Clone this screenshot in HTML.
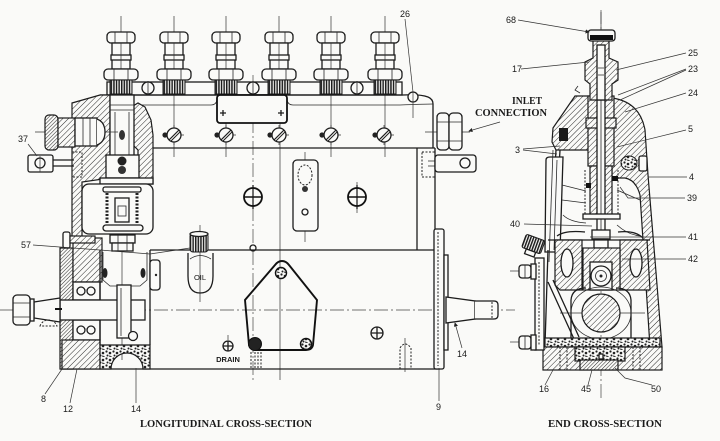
<!DOCTYPE html>
<html><head><meta charset="utf-8">
<style>
html,body{margin:0;padding:0;background:#fafaf8;}
svg{display:block;}
.l{fill:none;stroke:#1c1c1c;stroke-width:1.3;}
.t{fill:none;stroke:#333;stroke-width:0.7;}
.k{fill:none;stroke:#2a2a2a;stroke-width:0.8;}
.w{fill:#fafaf8;stroke:#1c1c1c;stroke-width:1.3;}
.h{fill:url(#hatch);stroke:#1c1c1c;stroke-width:1.2;}
.x{fill:url(#xh);stroke:#1c1c1c;stroke-width:1.2;}
.st{fill:url(#stip);stroke:#1c1c1c;stroke-width:1.2;}
.cl{fill:none;stroke:#444;stroke-width:0.7;stroke-dasharray:14 3 2 3;}
.dl{fill:none;stroke:#222;stroke-width:1;stroke-dasharray:2 1.5;}
.n{font-family:"Liberation Sans",sans-serif;font-size:9px;fill:#1a1a1a;}
.s{font-family:"Liberation Serif",serif;font-weight:bold;font-size:10px;fill:#1a1a1a;}
</style></head><body>
<svg width="720" height="441" viewBox="0 0 720 441" xmlns="http://www.w3.org/2000/svg">
<defs>
<pattern id="hatch" width="4" height="4" patternUnits="userSpaceOnUse" patternTransform="rotate(45)">
<rect width="4" height="4" fill="#fafaf8"/><line x1="0" y1="0" x2="0" y2="4" stroke="#2a2a2a" stroke-width="1"/>
</pattern>
<pattern id="xh" width="2.6" height="2.6" patternUnits="userSpaceOnUse" patternTransform="rotate(45)">
<rect width="2.6" height="2.6" fill="#fafaf8"/><line x1="0" y1="0" x2="0" y2="2.6" stroke="#222" stroke-width="1"/>
</pattern>
<pattern id="knurl" width="2.6" height="10" patternUnits="userSpaceOnUse">
<rect width="2.6" height="10" fill="#fafaf8"/><rect width="1.5" height="10" fill="#1e1e1e"/>
</pattern>
<pattern id="stip" width="7" height="7" patternUnits="userSpaceOnUse">
<rect width="7" height="7" fill="#fafaf8"/><circle cx="1.5" cy="1.5" r="1.1" fill="#222"/><circle cx="5" cy="3" r="1.3" fill="#222"/><circle cx="2.5" cy="5.5" r="1" fill="#222"/><path d="M4,6 l2.5,0.6" stroke="#222"/>
</pattern>
<g id="fit">
<line x1="0" y1="16" x2="0" y2="32" class="t"/>
<rect x="-14" y="32" width="28" height="11" rx="4" class="w"/>
<line x1="-6" y1="32" x2="-6" y2="43" class="k"/><line x1="6" y1="32" x2="6" y2="43" class="k"/>
<rect x="-9" y="43" width="18" height="26" class="w"/>
<rect x="-10" y="55" width="20" height="5" class="w"/>
<line x1="0" y1="43" x2="0" y2="69" class="t"/>
<rect x="-17" y="69" width="34" height="11" rx="4" class="w"/>
<line x1="-7" y1="69" x2="-7" y2="80" class="k"/><line x1="7" y1="69" x2="7" y2="80" class="k"/>
<rect x="-11" y="80" width="22" height="14" fill="url(#knurl)" stroke="#1c1c1c" stroke-width="1"/>
</g>
<g id="scr">
<line x1="-10" y1="0" x2="10" y2="0" class="t"/><line x1="0" y1="-10" x2="0" y2="10" class="t"/>
<circle cx="0" cy="0" r="7" class="w"/>
<line x1="-5" y1="5" x2="5" y2="-5" stroke="#1c1c1c" stroke-width="1.2"/>
<line x1="-3" y1="6" x2="6" y2="-3" stroke="#1c1c1c" stroke-width="1"/>
<circle cx="-9" cy="0" r="2.6" fill="#222"/>
</g>
<g id="bolt">
<circle cx="0" cy="0" r="9" fill="#fafaf8" stroke="#111" stroke-width="1.8"/>
<line x1="-9" y1="0" x2="9" y2="0" stroke="#111" stroke-width="1.4"/>
<line x1="0" y1="-12" x2="0" y2="12" stroke="#111" stroke-width="1.2"/>
</g>
<marker id="ar" markerWidth="6" markerHeight="6" refX="5" refY="3" orient="auto"><path d="M0,0 L6,3 L0,6 Z" fill="#222"/></marker>
</defs>
<rect width="720" height="441" fill="#fafaf8"/>

<!-- ================= LONGITUDINAL ================= -->
<line x1="0" y1="310" x2="515" y2="310" class="cl"/>
<line x1="253" y1="75" x2="253" y2="380" class="cl"/>
<line x1="280" y1="95" x2="280" y2="380" class="t"/>
<line x1="174" y1="95" x2="174" y2="157" class="t"/>
<line x1="226" y1="95" x2="226" y2="157" class="t"/>
<line x1="331" y1="95" x2="331" y2="157" class="t"/>
<line x1="385" y1="95" x2="385" y2="157" class="t"/>
<line x1="357" y1="182" x2="357" y2="213" class="t"/>
<line x1="305" y1="152" x2="305" y2="242" class="t"/>
<line x1="200" y1="225" x2="200" y2="302" class="t"/>
<line x1="122" y1="95" x2="122" y2="360" class="t"/>

<!-- rail and top -->
<rect x="107" y="82" width="295" height="13" class="w"/>
<path d="M100,95 H403 Q420,94 428,97 Q433,99 433,104 V148" class="l"/>
<path d="M133,105 H211 Q216,105 217,100 M287,100 Q288,105 293,105 H400 Q425,104 433,104" class="k"/>
<line x1="150" y1="148" x2="435" y2="148" class="l"/>
<line x1="435" y1="148" x2="435" y2="250" class="l"/>
<line x1="417" y1="148" x2="417" y2="250" class="l"/>
<circle cx="148" cy="88" r="6" class="w"/><line x1="148" y1="81" x2="148" y2="95" class="k"/>
<circle cx="253" cy="88" r="6" class="w"/><line x1="253" y1="81" x2="253" y2="95" class="k"/>
<circle cx="357" cy="88" r="6" class="w"/><line x1="357" y1="81" x2="357" y2="95" class="k"/>
<use href="#fit" x="121"/><use href="#fit" x="174"/><use href="#fit" x="226"/>
<use href="#fit" x="279"/><use href="#fit" x="331"/><use href="#fit" x="385"/>
<rect x="217" y="95" width="70" height="28" rx="3" fill="#fafaf8" stroke="#111" stroke-width="1.8"/>
<path d="M220,113 h6 M223,110 v6 M278,113 h6 M281,110 v6" class="l"/>
<circle cx="413" cy="97" r="5" class="w"/><line x1="413" y1="92" x2="413" y2="118" class="t"/>

<use href="#scr" x="174" y="135"/><use href="#scr" x="226" y="135"/><use href="#scr" x="279" y="135"/>
<use href="#scr" x="331" y="135"/><use href="#scr" x="384" y="135"/>

<!-- inlet nuts -->
<line x1="425" y1="132" x2="470" y2="132" class="t"/>
<rect x="437" y="113" width="12" height="37" rx="4" class="w"/>
<rect x="449" y="113" width="13" height="37" rx="4" class="w"/>
<path d="M437,122 H462 M437,141 H462" class="k"/>
<!-- right bracket -->
<rect x="422" y="152" width="13" height="25" class="dl"/>
<path d="M428,161 H452 M428,166 H452" class="k"/>
<rect x="435" y="155" width="41" height="17" rx="3" class="w"/>
<circle cx="465" cy="163" r="5" class="w"/>

<!-- middle block -->
<use href="#bolt" x="253" y="197"/><use href="#bolt" x="357" y="197"/>
<rect x="293" y="160" width="25" height="71" rx="4" class="w"/>
<ellipse cx="305" cy="175" rx="7" ry="10" class="dl"/>
<circle cx="305" cy="189" r="3" fill="#333"/>
<circle cx="305" cy="212" r="3" class="w"/>
<circle cx="253" cy="248" r="3" class="w"/>

<!-- lower body -->
<line x1="150" y1="250" x2="434" y2="250" class="l"/>
<line x1="60" y1="369" x2="440" y2="369" class="l" stroke-width="1.6"/>
<!-- oil plug -->
<path d="M188,253 V276 Q188,293 200,293 Q213,293 213,276 V253" class="l"/>
<path d="M190,259 Q200,252 211,259" class="k"/>
<rect x="190" y="233" width="18" height="19" rx="3" fill="url(#knurl)" stroke="#1c1c1c"/>
<ellipse cx="199" cy="234" rx="9" ry="2.5" class="w"/>
<text x="200" y="280" class="n" style="font-size:7.5px" text-anchor="middle">OIL</text>
<!-- pentagon cover -->
<path d="M282,261 Q286,261 289,265 L317,300 L313,345 Q312,350 306,350 L256,350 Q250,350 249,345 L245,300 L275,265 Q278,261 282,261 Z" fill="none" stroke="#111" stroke-width="1.9"/>
<circle cx="281" cy="273" r="5.5" fill="url(#stip)" stroke="#111" stroke-width="1.4"/>
<circle cx="255" cy="344" r="6.5" fill="#222" stroke="#111"/>
<circle cx="306" cy="344" r="5.5" fill="url(#stip)" stroke="#111" stroke-width="1.4"/>
<path d="M251,352 V369 M255,352 V369 M258,352 V369 M261,352 V369" class="dl"/>
<path d="M400,369 V348 Q405,340 411,348 V369" class="dl"/>
<line x1="405" y1="338" x2="405" y2="372" class="t"/>
<circle cx="228" cy="346" r="5" class="w"/><path d="M223,346 H233 M228,341 V351" class="l"/>
<line x1="228" y1="335" x2="228" y2="340" class="t"/>
<text x="228" y="362" class="n" style="font-size:7.5px;font-weight:bold" text-anchor="middle">DRAIN</text>
<circle cx="377" cy="333" r="6" class="w"/><path d="M371,333 H383 M377,327 V339" class="l"/>
<!-- flange & right shaft -->
<rect x="434" y="229" width="10" height="140" rx="2" class="w"/>
<line x1="438" y1="232" x2="438" y2="366" class="dl"/>
<rect x="444" y="255" width="4" height="95" class="w"/>
<path d="M446,297 L475,301 V319 L446,323 Z" class="w"/>
<path d="M475,301 H494 Q498,301 498,305 V315 Q498,319 494,319 H475" class="w"/>
<line x1="492" y1="302" x2="492" y2="318" class="dl"/>

<!-- left mechanism -->
<path d="M72,103 L100,95 L110,95 L110,178 L82,182 L82,238 L72,238 Z" class="h"/>
<path d="M133,106 L138,103 L145,107 L151,120 L153,135 L153,184 L138,184 L138,150 L133,145 Z" class="h"/>
<rect x="110" y="95" width="24" height="85" class="w"/>
<path d="M110,105 H134 M110,110 H134 M115,112 V155 M129,112 V155" class="k"/>
<ellipse cx="122" cy="135" rx="3" ry="5" fill="#333"/>
<rect x="106" y="155" width="33" height="23" class="w"/>
<circle cx="122" cy="161" r="4.5" fill="#222"/><circle cx="122" cy="170" r="4" fill="#333"/>
<rect x="100" y="178" width="53" height="6" class="w" stroke-width="1.6"/>
<rect x="82" y="184" width="71" height="50" rx="7" class="w"/>
<rect x="103" y="187" width="38" height="5" rx="2" class="w"/>
<line x1="107" y1="193" x2="107" y2="226" stroke="#222" stroke-width="3" stroke-dasharray="2 1.5"/>
<line x1="137" y1="193" x2="137" y2="226" stroke="#222" stroke-width="3" stroke-dasharray="2 1.5"/>
<rect x="115" y="198" width="14" height="24" class="w"/>
<rect x="118" y="206" width="8" height="10" class="k"/>
<rect x="103" y="225" width="40" height="6" rx="3" class="w" stroke-width="1.6"/>
<rect x="110" y="235" width="25" height="8" class="w"/><rect x="112" y="243" width="21" height="8" class="w"/>
<path d="M118,235 V251 M127,235 V251" class="k"/>
<!-- fitting 37 -->
<line x1="35" y1="132" x2="118" y2="132" class="t"/>
<rect x="45" y="115" width="13" height="35" rx="4" class="x"/>
<rect x="58" y="118" width="17" height="29" class="h"/>
<rect x="75" y="118" width="22" height="28" class="w"/>
<path d="M97,119 Q105,122 105,132 Q105,142 97,145" class="w"/>
<path d="M83,118 V146 M90,118 V146" class="k"/>
<path d="M53,160 H74 M53,166 H74" class="l"/>
<rect x="72" y="152" width="10" height="25" class="dl"/>
<rect x="28" y="155" width="25" height="17" rx="2" class="w" stroke-width="1.6"/>
<circle cx="40" cy="163" r="5" class="w"/>
<line x1="40" y1="156" x2="40" y2="172" class="t"/>
<!-- lower left housing -->
<rect x="60" y="248" width="13" height="121" class="x"/>
<rect x="73" y="238" width="29" height="44" class="h"/>
<rect x="73" y="282" width="27" height="18" class="w"/>
<circle cx="81" cy="291" r="4" class="w"/><circle cx="91" cy="291" r="4" class="w"/>
<rect x="73" y="320" width="27" height="20" class="w"/>
<circle cx="81" cy="330" r="4" class="w"/><circle cx="91" cy="330" r="4" class="w"/>
<rect x="62" y="340" width="38" height="29" class="h"/>
<path d="M100,345 H150 V369 H143 A16,16 0 0 0 111,369 H100 Z" class="st"/>
<path d="M100,250 V345 M150,250 V345" class="l"/>
<path d="M103,252 V280 L110,286 H117 M147,252 V280 L140,286 H131" class="k"/>
<ellipse cx="105" cy="273" rx="2.5" ry="5" fill="#222"/><ellipse cx="143" cy="273" rx="2.5" ry="5" fill="#222"/>
<rect x="150" y="260" width="10" height="30" rx="3" class="w"/><circle cx="156" cy="275" r="1.2" fill="#222"/>
<!-- bolt 57 -->
<rect x="63" y="232" width="7" height="16" rx="2" class="w"/>
<rect x="70" y="236" width="25" height="7" class="h"/>
<!-- left shaft -->
<rect x="60" y="300" width="85" height="20" class="w"/>
<rect x="117" y="285" width="14" height="53" class="w"/>
<line x1="121" y1="288" x2="121" y2="336" class="k"/>
<circle cx="133" cy="336" r="4.5" class="w"/>
<path d="M34,302 L60,298 V322 L34,318 Z" class="w"/>
<rect x="30" y="299" width="4" height="22" class="w"/>
<rect x="13" y="295" width="17" height="30" rx="4" class="w"/>
<path d="M13,303 H30 M13,317 H30" class="k"/>
<line x1="55" y1="309" x2="62" y2="309" stroke="#111" stroke-width="2"/>
<path d="M40,326 A9,9 0 0 1 57,326 Z" fill="none" stroke="#222" stroke-width="1" stroke-dasharray="2 1.5"/>

<!-- labels left -->
<text x="18" y="142" class="n">37</text><line x1="28" y1="144" x2="37" y2="156" class="t"/>
<text x="21" y="248" class="n">57</text><path d="M33,245 L100,250 L150,254 L190,248" class="t"/>
<text x="41" y="402" class="n">8</text><line x1="45" y1="394" x2="62" y2="369" class="t"/>
<text x="63" y="412" class="n">12</text><line x1="70" y1="403" x2="77" y2="369" class="t"/>
<text x="131" y="412" class="n">14</text><line x1="136" y1="403" x2="136" y2="368" class="t"/>
<text x="436" y="410" class="n">9</text><line x1="439" y1="401" x2="439" y2="368" class="t"/>
<text x="457" y="357" class="n">14</text><line x1="462" y1="348" x2="455" y2="323" class="t" marker-end="url(#ar)"/>
<text x="400" y="17" class="n">26</text><line x1="405" y1="19" x2="413" y2="92" class="t"/>
<text x="512" y="104" class="s" textLength="30" lengthAdjust="spacingAndGlyphs">INLET</text>
<text x="475" y="116" class="s" textLength="72" lengthAdjust="spacingAndGlyphs">CONNECTION</text>
<line x1="500" y1="122" x2="469" y2="131" class="t" stroke-width="1" marker-end="url(#ar)"/>
<text x="140" y="427" class="s" textLength="172" lengthAdjust="spacingAndGlyphs">LONGITUDINAL CROSS-SECTION</text>

<!-- ================= END SECTION ================= -->
<line x1="601" y1="10" x2="601" y2="400" class="cl"/>
<!-- right wall -->
<path d="M612,98 Q640,102 645,130 L648,175 L655,260 L662,347 L650,347 L645,270 L640,195 Q636,180 625,178 L612,178 Z" class="h"/>
<!-- left dome -->
<path d="M575,96 L589,96 L589,150 L556,150 L552,142 L553,128 Z" class="h"/>
<rect x="559" y="128" width="9" height="13" fill="#1a1a1a"/>
<path d="M556,150 L550,250 M560,150 L555,240" class="l"/>
<!-- governor plate -->
<path d="M546,160 Q546,157 550,157 L563,157 L560,252 L545,252 Z" class="w"/>
<path d="M553,150 L549,262 M557,160 L554,250" class="k"/>
<!-- chamber lines -->
<path d="M562,185 L586,191 M562,200 L586,203 M563,215 Q570,222 586,223 M617,190 L640,200 M617,225 Q628,235 641,236" class="k"/>
<path d="M557,236 Q565,230 585,232 M618,232 Q635,230 643,238" class="l"/>
<!-- plunger barrel -->
<rect x="588" y="96" width="26" height="70" class="h"/>
<rect x="586" y="118" width="30" height="10" class="h"/>
<rect x="590" y="166" width="22" height="50" class="h"/>
<rect x="597" y="96" width="8" height="140" class="w"/>
<line x1="601" y1="100" x2="601" y2="235" class="k"/>
<path d="M585,170 V214 M618,170 V214" class="dl"/>
<rect x="586" y="183" width="5" height="5" fill="#111"/><rect x="612" y="176" width="6" height="5" fill="#111"/>
<rect x="583" y="214" width="37" height="5" class="w"/>
<rect x="592" y="230" width="18" height="9" class="w"/><rect x="594" y="239" width="14" height="9" class="w"/>
<!-- bolt 4 -->
<ellipse cx="629" cy="163" rx="8" ry="7" fill="url(#stip)" stroke="#1c1c1c"/>
<rect x="639" y="156" width="8" height="15" rx="2" class="w"/>
<!-- cam chamber -->
<line x1="548" y1="240" x2="650" y2="240" class="l" stroke-width="1.6"/>
<path d="M555,240 H582 V290 H560 L555,285 Z" class="h"/>
<ellipse cx="567" cy="263" rx="6" ry="14" class="w"/>
<path d="M620,240 H647 L650,290 H620 Z" class="h"/>
<ellipse cx="636" cy="263" rx="6" ry="14" class="w"/>
<rect x="583" y="248" width="37" height="42" class="h"/>
<rect x="590" y="262" width="22" height="28" class="w"/>
<circle cx="601" cy="276" r="10" class="w"/><circle cx="601" cy="276" r="5.5" class="k"/><circle cx="601" cy="276" r="1.5" fill="#222"/>
<path d="M571,340 V300 Q572,288 586,288 M631,340 V300 Q630,288 616,288" class="l"/>
<ellipse cx="601" cy="313" rx="30" ry="26" class="k"/>
<line x1="560" y1="313" x2="645" y2="313" class="t"/>
<circle cx="601" cy="313" r="19" class="h"/>
<path d="M548,282 L574,339 M553,280 L579,337" class="l"/>
<line x1="548" y1="250" x2="545" y2="345" class="l"/>
<!-- base -->
<rect x="545" y="338" width="115" height="9" class="st"/>
<rect x="543" y="347" width="119" height="23" class="h"/>
<rect x="575" y="347" width="50" height="14" class="st"/>
<rect x="580" y="360" width="38" height="10" class="x"/>
<rect x="599" y="354" width="4" height="5" class="w"/>
<path d="M560,347 V370 M567,347 V370 M633,347 V370 M640,347 V370" class="dl"/>
<!-- left bolts and side cover -->
<rect x="535" y="258" width="9" height="92" class="w"/>
<line x1="539" y1="262" x2="539" y2="346" class="dl"/>
<line x1="510" y1="271" x2="520" y2="271" class="t"/><line x1="510" y1="342" x2="520" y2="342" class="t"/>
<rect x="519" y="265" width="12" height="13" rx="3" class="w"/><rect x="531" y="264" width="5" height="15" class="w"/>
<rect x="519" y="336" width="12" height="13" rx="3" class="w"/><rect x="531" y="335" width="5" height="15" class="w"/>
<path d="M525,265 V278 M525,336 V349" class="k"/>
<g transform="translate(533,245) rotate(20)"><rect x="-10" y="-8" width="20" height="14" rx="2" fill="url(#knurl)" stroke="#1c1c1c"/><rect x="-5" y="6" width="10" height="5" class="w"/></g>
<!-- injector top -->
<line x1="601" y1="12" x2="601" y2="30" class="t"/>
<path d="M593,40 H609 V58 L618,62 V80 L612,84 V100 H590 V84 L585,80 V62 L593,58 Z" class="h"/>
<rect x="597" y="45" width="8" height="55" class="w"/>
<path d="M598,68 H604 M598,75 H604" class="k"/>
<rect x="588" y="30" width="27" height="11" rx="3" class="w"/>
<rect x="590" y="35" width="23" height="5" fill="#111"/>
<path d="M578,86 L575,90 L580,93" class="k"/>

<!-- labels end -->
<text x="506" y="23" class="n">68</text><line x1="518" y1="20" x2="589" y2="32" class="t" marker-end="url(#ar)"/>
<text x="512" y="72" class="n">17</text><line x1="521" y1="69" x2="589" y2="62" class="t"/>
<text x="688" y="56" class="n">25</text><line x1="686" y1="53" x2="616" y2="70" class="t"/>
<text x="688" y="72" class="n">23</text><line x1="686" y1="69" x2="618" y2="95" class="t"/><line x1="686" y1="70" x2="620" y2="100" class="t"/>
<text x="688" y="96" class="n">24</text><line x1="686" y1="93" x2="625" y2="112" class="t"/>
<text x="688" y="132" class="n">5</text><line x1="686" y1="130" x2="617" y2="147" class="t"/>
<text x="515" y="153" class="n">3</text><line x1="523" y1="149" x2="560" y2="146" class="t"/><line x1="523" y1="150" x2="557" y2="154" class="t"/>
<text x="689" y="180" class="n">4</text><line x1="687" y1="177" x2="648" y2="177" class="t"/>
<text x="687" y="201" class="n">39</text><path d="M685,198 L628,198 L620,187" class="t"/>
<text x="510" y="227" class="n">40</text><line x1="524" y1="224" x2="592" y2="226" class="t"/>
<text x="688" y="240" class="n">41</text><line x1="686" y1="237" x2="590" y2="237" class="t"/>
<text x="688" y="262" class="n">42</text><line x1="686" y1="259" x2="622" y2="259" class="t"/>
<text x="539" y="392" class="n">16</text><line x1="545" y1="385" x2="553" y2="370" class="t"/>
<text x="581" y="392" class="n">45</text><line x1="588" y1="385" x2="592" y2="370" class="t"/>
<text x="651" y="392" class="n">50</text><path d="M652,385 L625,378 L615,368" class="t"/>
<text x="548" y="427" class="s" textLength="114" lengthAdjust="spacingAndGlyphs">END CROSS-SECTION</text>
</svg>
</body></html>
